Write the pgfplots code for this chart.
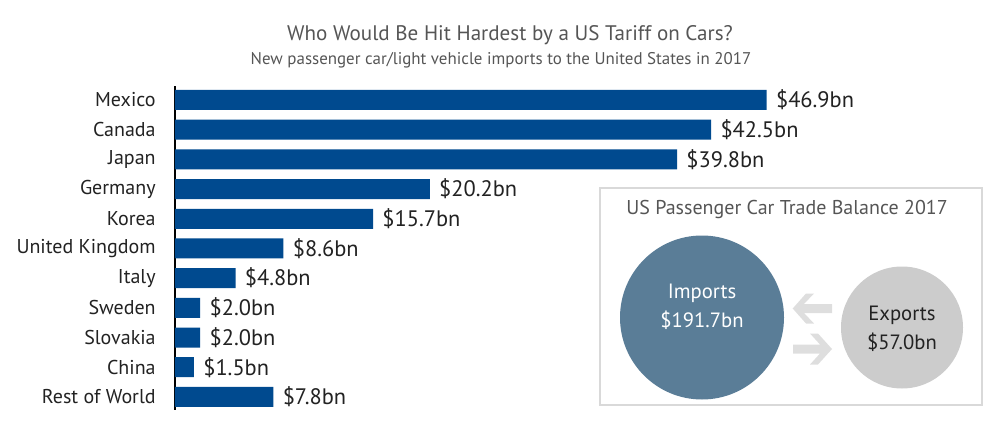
\documentclass[border=0pt]{standalone}
\usepackage{pgfplots}
\pgfplotsset{compat=1.18}
\usepackage{fontspec}
\setmainfont{PT Sans}
\definecolor{barblue}{HTML}{004A8F}
\definecolor{impblue}{HTML}{5A7D97}
\definecolor{expgray}{HTML}{CCCCCC}
\definecolor{arrowgray}{HTML}{DEDEDE}
\definecolor{boxgray}{HTML}{D9D9D9}
\definecolor{titlegray}{HTML}{555555}
\definecolor{txt}{HTML}{222222}
\begin{document}
\begin{tikzpicture}[x=0.75pt,y=0.75pt]
\path (0,0) rectangle (1000,440);
\node[text=titlegray,font=\fontsize{15.8}{18}\selectfont] at (510,405) {Who Would Be Hit Hardest by a US Tariff on Cars?};
\node[text=titlegray,font=\fontsize{12.7}{15}\selectfont] at (501,380) {New passenger car/light vehicle imports to the United States in 2017};
\begin{axis}[
  at={(131.25pt,22.5pt)}, anchor=south west,
  scale only axis, width=615pt, height=243pt,
  xmin=0, xmax=65, ymin=-0.47, ymax=10.44,
  y dir=reverse,
  xbar, bar width=15pt,
  axis x line=none, axis y line*=left,
  y axis line style={black, line width=1pt, -},
  ytick={0,...,10},
  yticklabels={Mexico,Canada,Japan,Germany,Korea,United Kingdom,Italy,Sweden,Slovakia,China,Rest of World},
  major tick length=0pt,
  yticklabel style={font=\fontsize{15}{17}\selectfont, text=txt, xshift=-11pt},
  point meta=x,
  /pgf/number format/assume math mode=true,
  nodes near coords={\$\pgfmathprintnumber[fixed,fixed zerofill,precision=1]{\pgfplotspointmeta}bn},
  nodes near coords style={font=\fontsize{16.8}{18}\selectfont, text=txt, xshift=3.5pt},
  clip=false,
]
\addplot[fill=barblue, draw=none] table[x=v,y=i] {
i v
0 46.9
1 42.5
2 39.8
3 20.2
4 15.7
5 8.6
6 4.8
7 2.0
8 2.0
9 1.5
10 7.8
};
\end{axis}
% inset
\draw[boxgray, line width=1.5pt] (600,35) rectangle (982,252);
\node[text=titlegray,font=\fontsize{15}{17}\selectfont] at (787,231) {US Passenger Car Trade Balance 2017};
\fill[impblue] (702,122.5) circle[radius=61.5pt];
\fill[expgray] (902,112.5) circle[radius=45.75pt];
\node[text=white,font=\fontsize{15.5}{17}\selectfont] at (702,147) {Imports};
\node[text=white,font=\fontsize{15.5}{17}\selectfont] at (702,120) {\$191.7bn};
\node[text=txt,font=\fontsize{15.5}{17}\selectfont] at (902,125) {Exports};
\node[text=txt,font=\fontsize{15.5}{17}\selectfont] at (902,98) {\$57.0bn};
\fill[arrowgray] (792.7,131.5) -- (806,146.5) -- (814,146.5) -- (804,136) -- (832,136) -- (832,127) -- (804,127) -- (814,116.5) -- (806,116.5) -- cycle;
\fill[arrowgray] (832,91) -- (818,106.5) -- (810,106.5) -- (820,95.5) -- (793,95.5) -- (793,86.5) -- (820,86.5) -- (810,75.5) -- (818,75.5) -- cycle;
\pgfresetboundingbox
\useasboundingbox (0,0) rectangle (1000,440);
\end{tikzpicture}
\end{document}
